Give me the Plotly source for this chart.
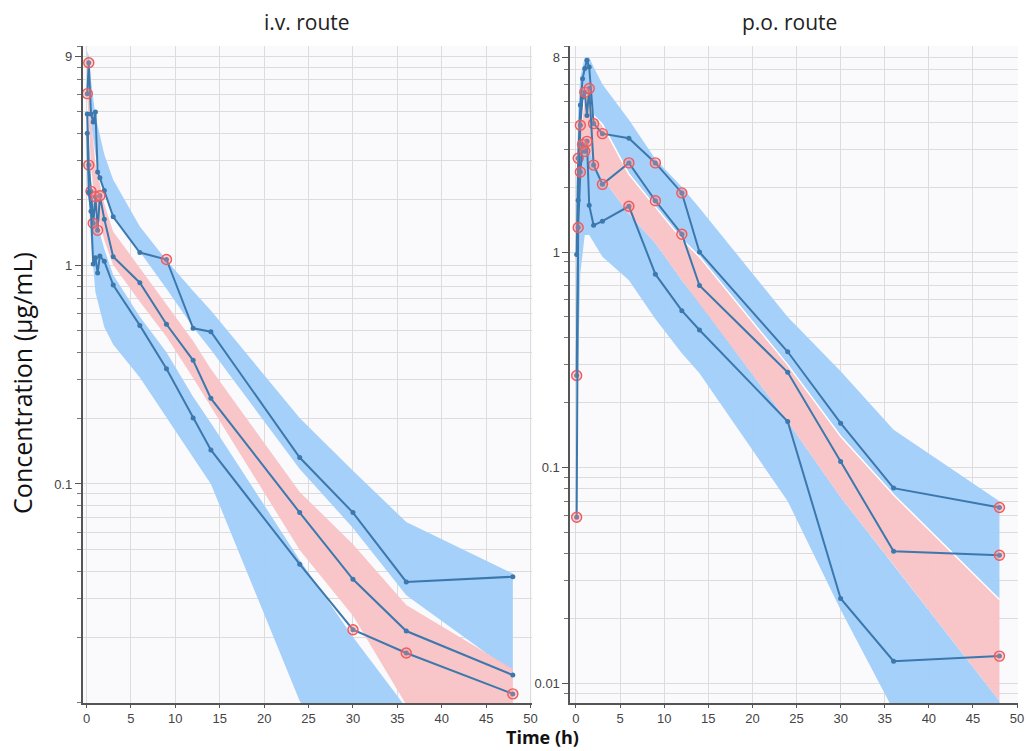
import plotly.graph_objects as go

# ---------------- i.v. route: observed percentile lines ----------------
iv_t = [0.08, 0.25, 0.5, 0.75, 1, 1.25, 1.5, 2, 3, 6, 9, 12, 14, 24, 30, 36, 48]
iv_hi = [6.06, 8.39, 4.9, 4.5, 5.0, 2.66, 2.5, 2.19, 1.66, 1.14, 1.06, 0.514, 0.496, 0.132, 0.074, 0.0357, 0.0377]
iv_hi_flag = [1, 1, 0, 0, 0, 0, 0, 0, 0, 0, 1, 0, 0, 0, 0, 0, 0]
iv_med = [4.9, 2.86, 2.17, 1.55, 2.05, 1.44, 2.07, 1.62, 1.09, 0.83, 0.536, 0.367, 0.246, 0.074, 0.0367, 0.0213, 0.0134]
iv_med_flag = [0, 1, 1, 1, 1, 1, 1, 0, 0, 0, 0, 0, 0, 0, 0, 0, 0]
iv_lo = [4.0, 2.15, 1.76, 1.01, 1.08, 0.92, 1.1, 1.04, 0.81, 0.53, 0.336, 0.2, 0.143, 0.043, 0.0216, 0.0169, 0.011]
iv_lo_flag = [0, 0, 0, 0, 0, 0, 0, 0, 0, 0, 0, 0, 0, 0, 1, 1, 1]

# i.v. prediction-interval bands
iv_band_t = [0.08, 0.25, 0.5, 1, 2, 3, 6, 9, 12, 14, 24, 30, 36, 48]
iv_p95_hi = [9.5, 9.0, 7.0, 4.8, 3.2, 2.45, 1.5, 1.05, 0.76, 0.62, 0.2, 0.115, 0.067, 0.039]
iv_p95_lo = [7.0, 6.0, 4.5, 3.2, 2.15, 1.65, 1.15, 0.78, 0.52, 0.41, 0.117, 0.063, 0.031, 0.0138]
iv_p50_hi = [8.5, 7.0, 4.6, 2.9, 1.9, 1.42, 0.97, 0.66, 0.45, 0.335, 0.092, 0.053, 0.028, 0.0143]
iv_p50_lo = [6.0, 4.5, 2.8, 1.85, 1.3, 1.0, 0.68, 0.47, 0.305, 0.228, 0.05, 0.025, 0.0098, 0.003]
iv_p05_hi = [5.0, 3.5, 2.4, 1.65, 1.18, 0.9, 0.58, 0.4, 0.25, 0.19, 0.045, 0.02, 0.0095, 0.004]
iv_p05_lo = [3.0, 2.0, 1.29, 0.75, 0.52, 0.434, 0.306, 0.2, 0.132, 0.1, 0.0102, 0.005, 0.002, 0.001]

# ---------------- p.o. route: observed percentile lines ----------------
po_t = [0.08, 0.25, 0.5, 0.75, 1, 1.25, 1.5, 2, 3, 6, 9, 12, 14, 24, 30, 36, 48]
po_hi = [0.975, 2.72, 4.8, 6.36, 7.1, 7.74, 7.2, 3.94, 3.54, 3.37, 2.59, 1.88, 1.0, 0.345, 0.161, 0.0805, 0.0655]
po_hi_flag = [0, 1, 0, 0, 0, 0, 0, 1, 1, 0, 1, 1, 0, 0, 0, 0, 1]
po_med = [0.268, 1.74, 3.87, 5.24, 5.5, 4.3, 5.73, 2.53, 2.06, 2.59, 1.73, 1.21, 0.70, 0.277, 0.107, 0.041, 0.0393]
po_med_flag = [1, 0, 1, 0, 1, 0, 1, 1, 1, 1, 1, 1, 0, 0, 0, 0, 1]
po_lo = [0.059, 1.3, 2.35, 3.15, 2.93, 3.26, 1.65, 1.33, 1.39, 1.63, 0.79, 0.535, 0.435, 0.164, 0.0248, 0.0127, 0.0134]
po_lo_flag = [1, 1, 1, 1, 1, 1, 0, 0, 0, 1, 0, 0, 0, 0, 0, 0, 1]

# p.o. prediction-interval bands
po_band_t = [0.08, 0.25, 0.5, 1, 1.5, 2, 3, 6, 9, 12, 14, 24, 30, 36, 48]
po_p95_hi = [2.0, 4.5, 6.5, 8.0, 8.0, 7.2, 6.0, 4.1, 2.7, 2.0, 1.6, 0.5, 0.28, 0.15, 0.07]
po_p95_lo = [0.6, 1.6, 3.6, 5.5, 5.2, 4.3, 3.9, 2.3, 1.62, 1.15, 0.95, 0.3, 0.14, 0.075, 0.0245]
po_p50_hi = [0.6, 1.6, 3.6, 5.5, 5.2, 4.3, 3.9, 2.3, 1.62, 1.15, 0.95, 0.3, 0.14, 0.075, 0.0245]
po_p50_lo = [0.3, 1.0, 2.2, 3.5, 3.0, 2.6, 2.2, 1.5, 1.1, 0.74, 0.58, 0.164, 0.073, 0.0355, 0.0083]
po_p05_hi = [0.3, 1.0, 2.2, 3.5, 3.0, 2.6, 2.2, 1.5, 1.1, 0.74, 0.58, 0.164, 0.073, 0.0355, 0.0083]
po_p05_lo = [0.05, 0.3, 0.8, 1.2, 1.2, 1.1, 0.95, 0.74, 0.49, 0.34, 0.274, 0.07, 0.022, 0.0075, 0.0008]

x_ticks = [0, 5, 10, 15, 20, 25, 30, 35, 40, 45, 50]
iv_yticks = [9, 1, 0.1]
iv_yticktext = ["9", "1", "0.1"]
po_yticks = [8, 1, 0.1, 0.01]
po_yticktext = ["8", "1", "0.1", "0.01"]

BLUE_FILL = "rgba(160,205,250,0.95)"
PINK_FILL = "rgba(248,194,198,0.95)"
LINE_C = "#3b78ad"
RED = "#f05a5a"

fig = go.Figure()


def add_band(t, hi, lo, color, xa, ya):
    fig.add_trace(go.Scatter(
        x=list(t) + list(t)[::-1], y=list(hi) + list(lo)[::-1],
        fill="toself", fillcolor=color, mode="lines",
        line=dict(width=0, color=color),
        hoverinfo="skip", showlegend=False, xaxis=xa, yaxis=ya))


def add_obs(t, vals, flags, xa, ya):
    fig.add_trace(go.Scatter(
        x=t, y=vals, mode="lines+markers",
        line=dict(color=LINE_C, width=2),
        marker=dict(size=5, color=LINE_C),
        hoverinfo="skip", showlegend=False, xaxis=xa, yaxis=ya))
    ft = [a for a, f in zip(t, flags) if f]
    fv = [v for v, f in zip(vals, flags) if f]
    fig.add_trace(go.Scatter(
        x=ft, y=fv, mode="markers",
        marker=dict(size=10, color="rgba(255,140,140,0.35)",
                    line=dict(color=RED, width=1.4)),
        hoverinfo="skip", showlegend=False, xaxis=xa, yaxis=ya))


# i.v. panel
add_band(iv_band_t, iv_p95_hi, iv_p95_lo, BLUE_FILL, "x", "y")
add_band(iv_band_t, iv_p05_hi, iv_p05_lo, BLUE_FILL, "x", "y")
add_band(iv_band_t, iv_p50_hi, iv_p50_lo, PINK_FILL, "x", "y")
add_obs(iv_t, iv_hi, iv_hi_flag, "x", "y")
add_obs(iv_t, iv_med, iv_med_flag, "x", "y")
add_obs(iv_t, iv_lo, iv_lo_flag, "x", "y")

# p.o. panel
add_band(po_band_t, po_p95_hi, po_p95_lo, BLUE_FILL, "x2", "y2")
add_band(po_band_t, po_p05_hi, po_p05_lo, BLUE_FILL, "x2", "y2")
add_band(po_band_t, po_p50_hi, po_p50_lo, PINK_FILL, "x2", "y2")
fig.add_trace(go.Scatter(x=po_band_t, y=po_p50_hi, mode="lines",
                         line=dict(color="white", width=1.5),
                         hoverinfo="skip", showlegend=False, xaxis="x2", yaxis="y2"))
add_obs(po_t, po_hi, po_hi_flag, "x2", "y2")
add_obs(po_t, po_med, po_med_flag, "x2", "y2")
add_obs(po_t, po_lo, po_lo_flag, "x2", "y2")

GRID = "#dcdcdc"
minor_vals = [m * 10 ** e for e in (-3, -2, -1, 0) for m in range(1, 10)] + [10]
tickfont = dict(family="Arial", size=13, color="#444")

xcommon = dict(tickvals=x_ticks, showgrid=True, gridcolor=GRID, gridwidth=1,
               showline=True, linecolor="#555", linewidth=1.5, ticks="outside",
               ticklen=3, tickcolor="#555", tickfont=tickfont, zeroline=False,
               ticklabelstandoff=0)
ycommon = dict(type="log", showgrid=True, gridcolor=GRID, gridwidth=1,
               showline=True, linecolor="#555", linewidth=1.5, ticks="outside",
               ticklen=6, tickcolor="#555", tickfont=tickfont, zeroline=False,
               minor=dict(tickvals=minor_vals, showgrid=True, gridcolor=GRID,
                          ticks="outside", ticklen=4, tickcolor="#777"))

W, H = 1028, 751


def ann(text, px, py, size, angle=0, color="#222"):
    return dict(text=text, x=px / W, y=1 - py / H, xref="paper", yref="paper",
                xanchor="center", yanchor="middle", textangle=angle,
                showarrow=False, font=dict(family="Open Sans", size=size, color=color))


fig.update_layout(
    width=W, height=H,
    margin=dict(l=0, r=0, t=0, b=0),
    paper_bgcolor="white",
    plot_bgcolor="#fafafd",
    xaxis=dict(domain=[0.0807, 0.5204], range=[-0.45, 50.2], anchor="y", **xcommon),
    yaxis=dict(domain=[0.064, 0.9387], range=[-2, 1], anchor="x",
               tickvals=iv_yticks, ticktext=iv_yticktext, **ycommon),
    xaxis2=dict(domain=[0.5574, 0.9951], range=[-0.65, 50.1], anchor="y2", **xcommon),
    yaxis2=dict(domain=[0.064, 0.9387], range=[-2.09, 0.955], anchor="x2",
                tickvals=po_yticks, ticktext=po_yticktext, **ycommon),
    annotations=[
        ann("i.v. route", 309, 22, 21),
        ann("p.o. route", 793, 22, 21),
        ann("<b>Time (h)</b>", 545, 737, 18, color="#111"),
        ann("Concentration (µg/mL)", 22, 383, 25, angle=-90, color="#111"),
    ],
)

fig.write_html("out.html")
